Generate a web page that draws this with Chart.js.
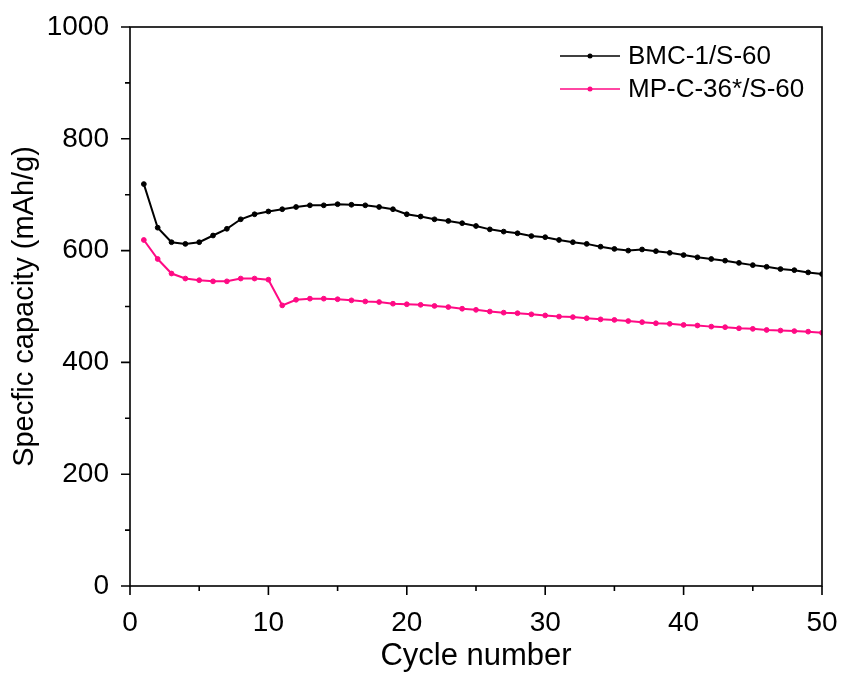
<!DOCTYPE html>
<html>
<head>
<meta charset="utf-8">
<script src="https://cdn.jsdelivr.net/npm/chart.js@4.4.1/dist/chart.umd.min.js"></script>
<style>
  body { margin: 0; background: #fff; }
  canvas { display: block; }
</style>
</head>
<body>
<canvas id="chart" width="842" height="675"></canvas>
<script>
// cycle data
const cycles = [1, 2, 3, 4, 5, 6, 7, 8, 9, 10, 11, 12, 13, 14, 15, 16, 17, 18, 19, 20,
  21, 22, 23, 24, 25, 26, 27, 28, 29, 30, 31, 32, 33, 34, 35, 36, 37, 38, 39, 40,
  41, 42, 43, 44, 45, 46, 47, 48, 49, 50];
const bmc = [719, 641, 615, 612, 615, 627, 639, 656, 665, 670,
  674, 678, 681, 681, 683, 682, 681, 678, 674, 665,
  661, 656, 653, 649, 644, 638, 634, 631, 626, 624,
  619, 615, 612, 607, 603, 600, 602, 599, 596, 592,
  588, 585, 582, 578, 574, 571, 567, 565, 561, 558];
const mpc = [619, 585, 559, 550, 547, 545, 545, 550, 550, 548,
  502, 512, 514, 514, 513, 511, 509, 508, 505, 504,
  503, 501, 499, 496, 494, 491, 489, 488, 486, 484,
  482, 481, 479, 477, 476, 474, 472, 470, 469, 467,
  466, 464, 463, 461, 460, 458, 457, 456, 455, 453];
const seriesNames = ["BMC-1/S-60", "MP-C-36*/S-60"];
const seriesColors = ["#000000", "#ff0a84"];
const xMajor = [0, 10, 20, 30, 40, 50];
const xMinor = [5, 15, 25, 35, 45];
const yMajor = [0, 200, 400, 600, 800, 1000];
const yMinor = [100, 300, 500, 700, 900];

const FONT = "'Liberation Sans', Arial, sans-serif";

// frame + outward tick marks, drawn by hand so minor ticks can be shorter
const framePlugin = {
  id: "frame",
  afterDraw(chart) {
    const { ctx, chartArea: a, scales } = chart;
    ctx.save();
    ctx.strokeStyle = "#000";
    ctx.lineWidth = 1.6;
    ctx.strokeRect(a.left, a.top, a.right - a.left, a.bottom - a.top);
    ctx.beginPath();
    xMajor.forEach((v) => {
      const px = scales.x.getPixelForValue(v);
      ctx.moveTo(px, a.bottom); ctx.lineTo(px, a.bottom + 9);
    });
    xMinor.forEach((v) => {
      const px = scales.x.getPixelForValue(v);
      ctx.moveTo(px, a.bottom); ctx.lineTo(px, a.bottom + 5);
    });
    yMajor.forEach((v) => {
      const py = scales.y.getPixelForValue(v);
      ctx.moveTo(a.left, py); ctx.lineTo(a.left - 9, py);
    });
    yMinor.forEach((v) => {
      const py = scales.y.getPixelForValue(v);
      ctx.moveTo(a.left, py); ctx.lineTo(a.left - 5, py);
    });
    ctx.stroke();

    // legend, top right inside the plot
    ctx.font = "26px " + FONT;
    ctx.textBaseline = "middle";
    chart.data.datasets.forEach((ds, i) => {
      const y = 56 + i * 33;
      ctx.strokeStyle = ds.borderColor;
      ctx.fillStyle = ds.borderColor;
      ctx.lineWidth = 1.6;
      ctx.beginPath();
      ctx.moveTo(560, y); ctx.lineTo(620, y);
      ctx.stroke();
      ctx.beginPath();
      ctx.arc(590, y, 2.5, 0, Math.PI * 2);
      ctx.fill();
      ctx.fillStyle = "#000";
      ctx.fillText(ds.label, 628, y + 1);
    });
    ctx.restore();
  },
};

new Chart(document.getElementById("chart"), {
  type: "line",
  data: {
    datasets: [bmc, mpc].map((vals, i) => ({
      label: seriesNames[i],
      data: cycles.map((c, k) => ({ x: c, y: vals[k] })),
      borderColor: seriesColors[i],
      backgroundColor: seriesColors[i],
      borderWidth: 2,
      pointRadius: 2.4,
      pointBorderWidth: 1,
      tension: 0,
    })),
  },
  options: {
    responsive: false,
    animation: false,
    layout: { padding: { top: 27, right: 20, left: 8, bottom: 0 } },
    plugins: { legend: { display: false }, tooltip: { enabled: false } },
    scales: {
      x: {
        type: "linear",
        min: 0,
        max: 50,
        grid: { display: false, drawTicks: false },
        border: { display: false },
        ticks: {
          stepSize: 10,
          padding: 20,
          color: "#000",
          font: { family: FONT, size: 28 },
          maxRotation: 0,
        },
        title: {
          display: true,
          text: "Cycle number",
          color: "#000",
          font: { family: FONT, size: 31 },
          padding: { top: 5, bottom: 0 },
        },
        afterFit: (s) => {
          s.height = 89;
          s.paddingLeft = 0;
          s.paddingRight = 0;
        },
      },
      y: {
        min: 0,
        max: 1000,
        grid: { display: false, drawTicks: false },
        border: { display: false },
        ticks: {
          stepSize: 200,
          padding: 21,
          color: "#000",
          font: { family: FONT, size: 28 },
          callback: (v) => String(v),
        },
        title: {
          display: true,
          text: "Specfic capacity (mAh/g)",
          color: "#000",
          font: { family: FONT, size: 29 },
          padding: { top: 0, bottom: 4 },
        },
        afterFit: (s) => {
          s.width = 122;
          s.paddingTop = 0;
          s.paddingBottom = 0;
        },
      },
    },
  },
  plugins: [framePlugin],
});
</script>
</body>
</html>
